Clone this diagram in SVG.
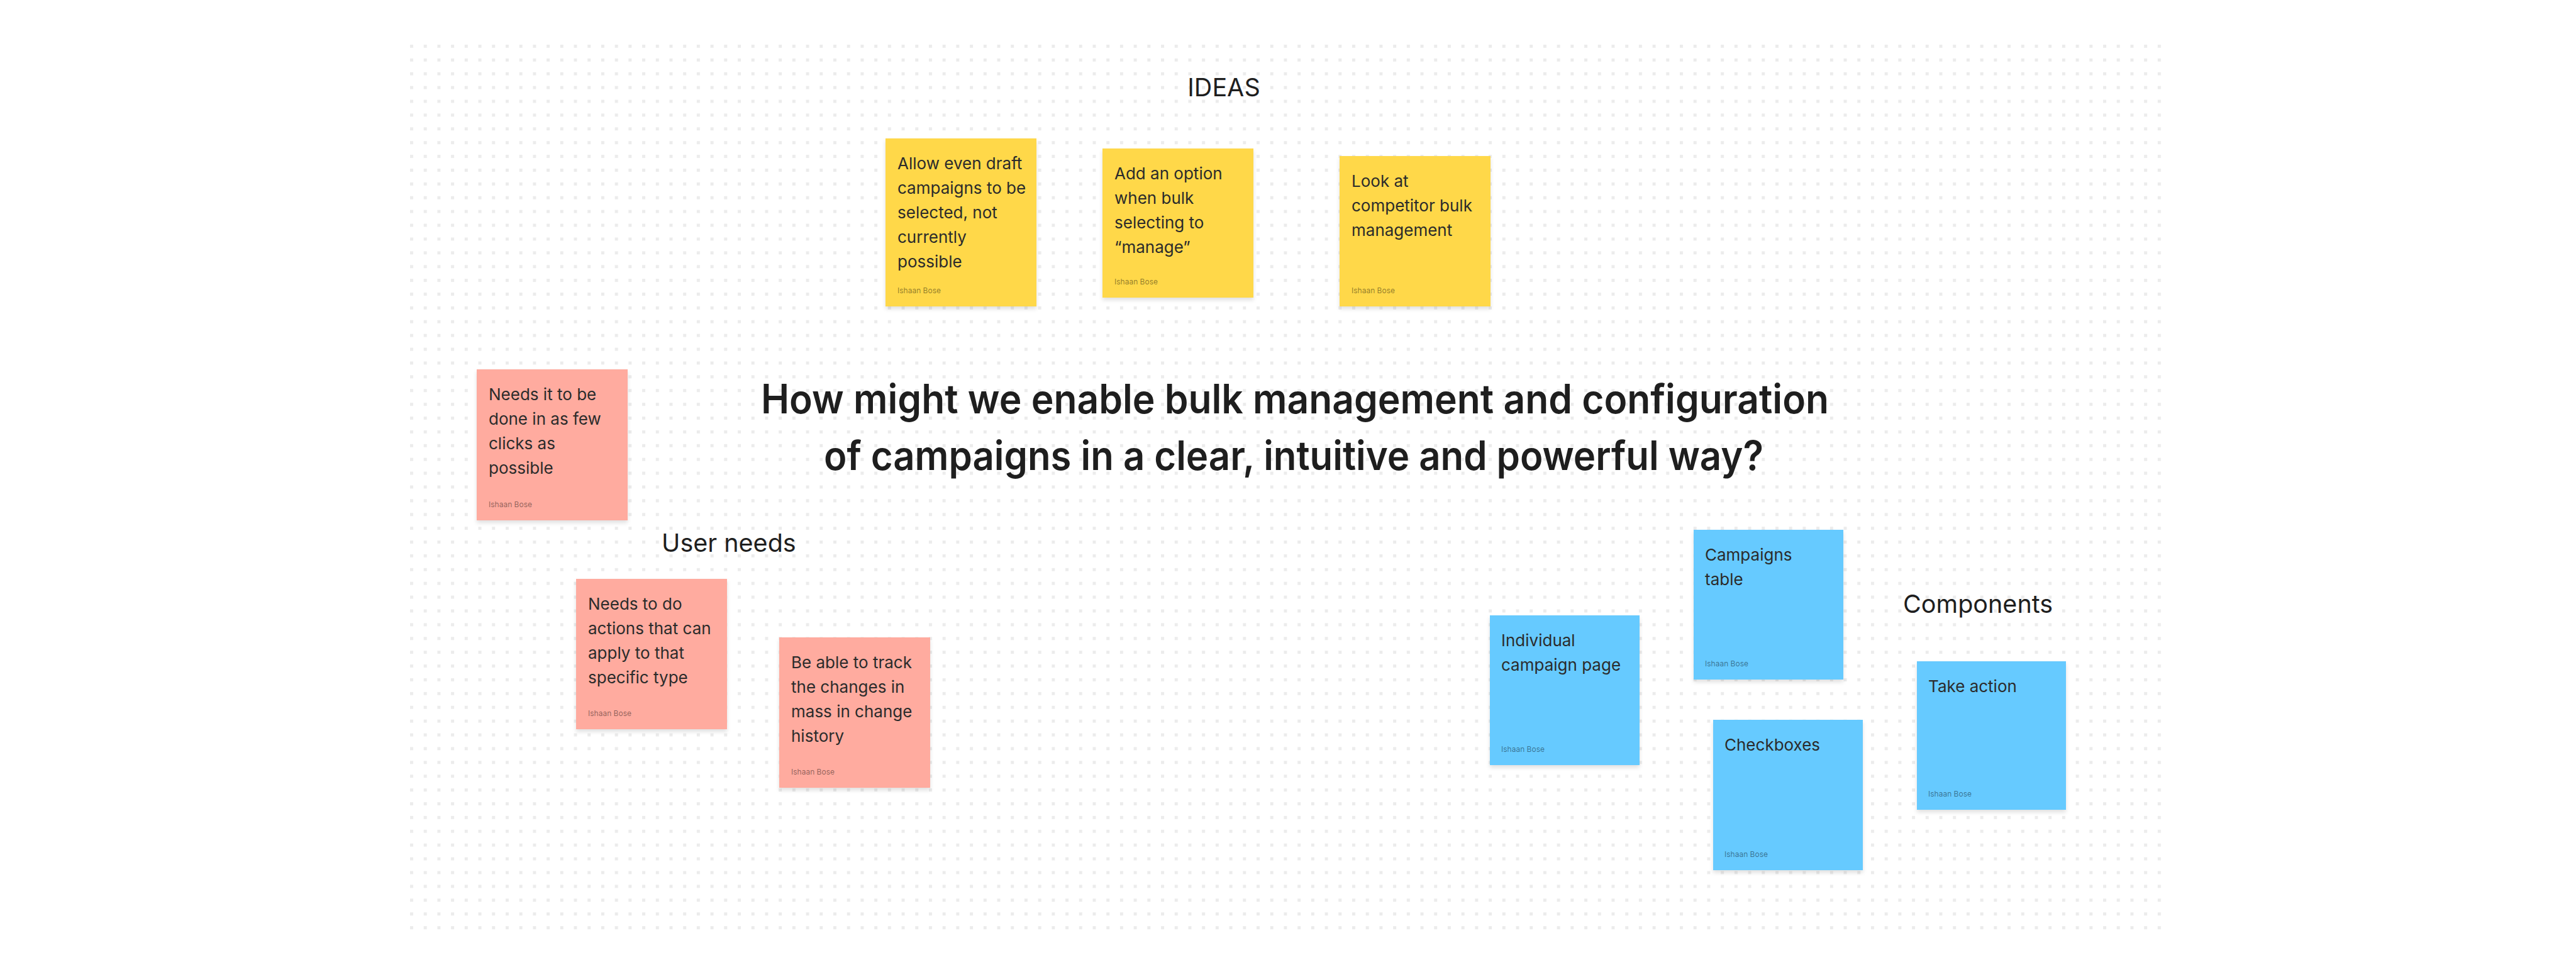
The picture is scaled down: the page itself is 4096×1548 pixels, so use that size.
<svg xmlns="http://www.w3.org/2000/svg" width="4096" height="1548" viewBox="0 0 4096 1548">
  <defs>
    <pattern id="dots" patternUnits="userSpaceOnUse" x="652" y="71" width="21.71" height="21.89">
      <rect x="0" y="0" width="5" height="5" fill="#ececec"/>
    </pattern>
    <filter id="lift" x="-10%" y="-10%" width="120%" height="125%">
      <feDropShadow dx="0" dy="4" stdDeviation="3" flood-color="#000" flood-opacity="0.12"/>
    </filter>
  </defs>
  <style>
    .note { filter: url(#lift); }
    .yellow { fill: #ffd84a; }
    .pink { fill: #ffab9f; }
    .blue { fill: #66caff; }
    .body { font-family: Inter, "Liberation Sans", sans-serif; font-size: 26px; fill: #2b2b2b; }
    .author { font-family: Inter, "Liberation Sans", sans-serif; font-size: 12px; fill: #000; fill-opacity: 0.45; }
    .label { font-family: Inter, "Liberation Sans", sans-serif; font-size: 39.5px; fill: #1e1e1e; }
    .title { font-family: Inter, "Liberation Sans", sans-serif; font-size: 64px; font-weight: 600; fill: #1e1e1e; }
  </style>

  <!-- canvas -->
  <rect width="4096" height="1548" fill="#ffffff"/>
  <rect x="650" y="69" width="2792" height="1412" fill="url(#dots)"/>

  <!-- section labels and prompt -->
  <g id="label-ideas"><text class="label" x="1946" y="153" text-anchor="middle">IDEAS</text></g>
  <g id="label-user-needs"><text class="label" x="1052" y="877">User needs</text></g>
  <g id="label-components"><text class="label" x="3026" y="974">Components</text></g>
  <g id="prompt">
    <text class="title" x="1210" y="657" textLength="1698" lengthAdjust="spacingAndGlyphs">How might we enable bulk management and configuration</text>
    <text class="title" x="1310" y="747" textLength="1494" lengthAdjust="spacingAndGlyphs">of campaigns in a clear, intuitive and powerful way?</text>
  </g>

  <!-- ideas -->
  <g id="idea-draft-selection" transform="translate(1408,220)">
    <rect class="note yellow" width="240" height="267"/>
    <text class="body" x="19" y="49">Allow even draft</text>
    <text class="body" x="19" y="88">campaigns to be</text>
    <text class="body" x="19" y="127">selected, not</text>
    <text class="body" x="19" y="166">currently</text>
    <text class="body" x="19" y="205">possible</text>
    <text class="author" x="19" y="246">Ishaan Bose</text>
  </g>
  <g id="idea-manage-option" transform="translate(1753,236)">
    <rect class="note yellow" width="240" height="237"/>
    <text class="body" x="19" y="49">Add an option</text>
    <text class="body" x="19" y="88">when bulk</text>
    <text class="body" x="19" y="127">selecting to</text>
    <text class="body" x="19" y="166">“manage”</text>
    <text class="author" x="19" y="216">Ishaan Bose</text>
  </g>
  <g id="idea-competitors" transform="translate(2130,248)">
    <rect class="note yellow" width="240" height="239"/>
    <text class="body" x="19" y="49">Look at</text>
    <text class="body" x="19" y="88">competitor bulk</text>
    <text class="body" x="19" y="127">management</text>
    <text class="author" x="19" y="218">Ishaan Bose</text>
  </g>

  <!-- user needs -->
  <g id="need-few-clicks" transform="translate(758,587)">
    <rect class="note pink" width="240" height="240"/>
    <text class="body" x="19" y="49">Needs it to be</text>
    <text class="body" x="19" y="88">done in as few</text>
    <text class="body" x="19" y="127">clicks as</text>
    <text class="body" x="19" y="166">possible</text>
    <text class="author" x="19" y="219">Ishaan Bose</text>
  </g>
  <g id="need-type-actions" transform="translate(916,920)">
    <rect class="note pink" width="240" height="239"/>
    <text class="body" x="19" y="49">Needs to do</text>
    <text class="body" x="19" y="88">actions that can</text>
    <text class="body" x="19" y="127">apply to that</text>
    <text class="body" x="19" y="166">specific type</text>
    <text class="author" x="19" y="218">Ishaan Bose</text>
  </g>
  <g id="need-change-history" transform="translate(1239,1013)">
    <rect class="note pink" width="240" height="239"/>
    <text class="body" x="19" y="49">Be able to track</text>
    <text class="body" x="19" y="88">the changes in</text>
    <text class="body" x="19" y="127">mass in change</text>
    <text class="body" x="19" y="166">history</text>
    <text class="author" x="19" y="218">Ishaan Bose</text>
  </g>

  <!-- components -->
  <g id="component-campaign-page" transform="translate(2369,978)">
    <rect class="note blue" width="238" height="238"/>
    <text class="body" x="18" y="49">Individual</text>
    <text class="body" x="18" y="88">campaign page</text>
    <text class="author" x="18" y="217">Ishaan Bose</text>
  </g>
  <g id="component-campaigns-table" transform="translate(2693,842)">
    <rect class="note blue" width="238" height="238"/>
    <text class="body" x="18" y="49">Campaigns</text>
    <text class="body" x="18" y="88">table</text>
    <text class="author" x="18" y="217">Ishaan Bose</text>
  </g>
  <g id="component-checkboxes" transform="translate(2724,1144)">
    <rect class="note blue" width="238" height="239"/>
    <text class="body" x="18" y="49">Checkboxes</text>
    <text class="author" x="18" y="218">Ishaan Bose</text>
  </g>
  <g id="component-take-action" transform="translate(3048,1051)">
    <rect class="note blue" width="237" height="236"/>
    <text class="body" x="18" y="49">Take action</text>
    <text class="author" x="18" y="215">Ishaan Bose</text>
  </g>

  <!-- no connectors on this board -->
  <g id="connectors"/>
</svg>
